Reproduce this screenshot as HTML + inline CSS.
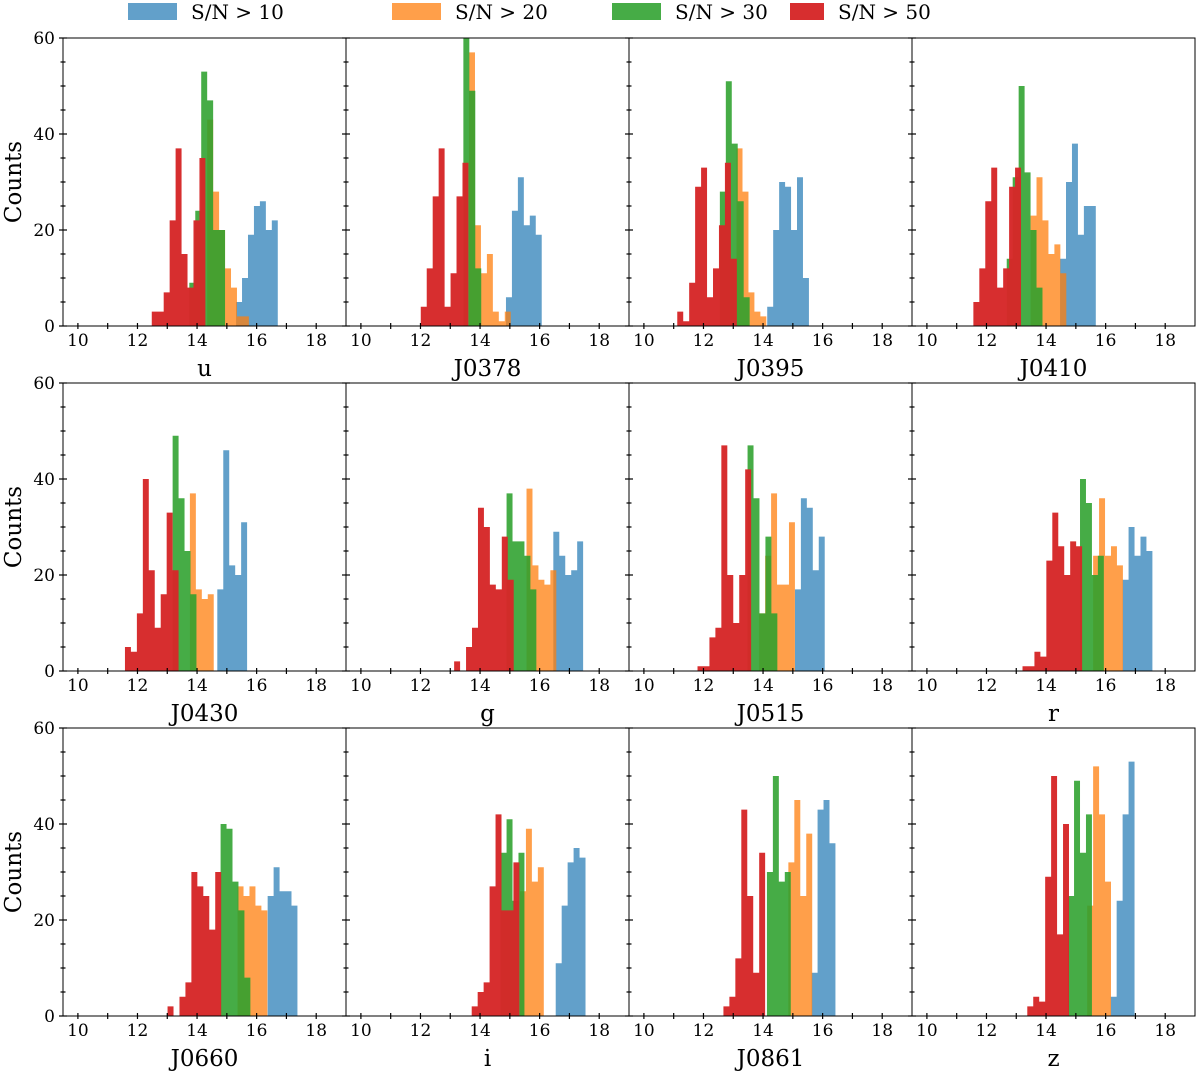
<!DOCTYPE html>
<html><head><meta charset="utf-8"><style>
body{margin:0;background:#fff;}
svg{display:block;font-family:"DejaVu Serif","Liberation Serif",serif;}
</style></head><body>
<svg id="chart" width="1200" height="1075" viewBox="0 0 1200 1075" xmlns="http://www.w3.org/2000/svg"></svg>
<script>
// Per-panel data: filter names, then for each series: bin start magnitude and counts (bin width 0.2 mag)
const filters = ["u","J0378","J0395","J0410","J0430","g","J0515","r","J0660","i","J0861","z"];
const seriesNames = ["S/N > 10","S/N > 20","S/N > 30","S/N > 50"];
const binWidth = 0.2;
const blueStart = [15.31,14.87,14.14,14.47,14.68,16.46,15.07,16.57,16.37,16.54,15.63,16.17];
const blueCounts = [[5,10,19,25,26,20,22],[6,24,31,21,23,19],[4,20,30,29,20,31,10],[14,30,38,19,25,25],[17,46,22,20,31],[29,24,20,21,27],[17,36,34,21,28],[19,30,24,28,25],[25,31,26,26,23],[11,23,32,35,33],[9,43,45,36],[4,24,42,53]];
const orangeStart = [14.34,13.63,13.11,13.48,13.76,15.56,13.87,15.58,15.36,15.34,14.85,15.38];
const orangeCounts = [[43,28,20,12,8,2,2],[57,21,11,15,3,1,3],[37,28,7,3,2],[23,31,22,15,17,11],[37,17,15,16],[38,22,19,18,21],[12,24,37,18,18,31],[24,36,24,26,22],[27,25,27,23,22],[26,39,28,31],[32,45,25,38],[23,52,42,28]];
const greenStart = [13.74,13.44,12.55,12.68,13.18,14.89,13.48,15.14,14.79,14.69,14.13,14.74];
const greenCounts = [[9,24,53,47,20,20],[60,49,12],[28,51,38,26,6],[14,31,50,32,20,8],[49,36,25,16],[37,27,27,24,17],[47,36,12,28,12],[40,35,20,24],[40,39,28,22,8],[34,41,24,34],[30,50,28,30],[25,49,34,42]];
const redStart = [12.48,12.01,11.12,11.56,11.58,13.13,11.8,13.21,13.01,13.72,12.67,13.37];
const redCounts = [[3,3,7,22,37,15,8,22,35],[4,12,27,37,4,11,27,34],[3,1,9,29,33,6,12,21,34,14],[5,12,26,33,8,12,29,33],[5,4,12,40,21,9,16,33,21],[2,0,5,9,34,30,18,17,28,19],[1,1,7,9,47,20,10,20,42],[1,1,4,3,23,33,26,20,27,26],[2,0,4,7,30,27,25,18,30],[2,5,7,27,42,22,22,32],[2,4,12,43,25,9,34],[2,4,3,29,50,17,40]];
const xTicks = [10,12,14,16,18];
const yTicks = [0,20,40,60];

const NS="http://www.w3.org/2000/svg";
const svg=document.getElementById('chart');
function mk(tag,attrs,parent){const e=document.createElementNS(NS,tag);for(const k in attrs)e.setAttribute(k,attrs[k]);(parent||svg).appendChild(e);return e;}
const colLeft=[63,346,629,912], pw=283, rowTop=[38,383,728], ph=288;
const xMin=9.5,xMax=19.0,yMax=60;
const colors=["#1f77b4","#ff7f0e","#2ca02c","#d62728"];
const opac=[0.7,0.75,0.88,0.97];
const starts=[blueStart,orangeStart,greenStart,redStart];
const counts=[blueCounts,orangeCounts,greenCounts,redCounts];

// legend
const legX=[128,392,612,790];
seriesNames.forEach((n,i)=>{
  const g=mk('g',{});
  
  
  const r=mk('rect',{x:legX[i],y:3,width:(i===3?34:49),height:17,fill:colors[i],'fill-opacity':opac[i]},g);
  
  
  const t=mk('text',{x:(i===3?838:legX[i]+63),y:19,'font-size':20,fill:'#000'},g);
  t.textContent=n;
  
  
});

filters.forEach((f,p)=>{
  const c=p%4, r=Math.floor(p/4);
  const L=colLeft[c], T=rowTop[r], B=T+ph;
  const sx=m=>L+(m-xMin)/(xMax-xMin)*pw;
  const sy=v=>B-v/yMax*ph;
  const g=mk('g',{});
  
  
  for(let s=0;s<4;s++){
    const arr=counts[s][p];
    const st=starts[s][p];
    let d='M'+sx(st).toFixed(2)+','+B;
    arr.forEach((v,k)=>{
      const x0=sx(st+k*binWidth), x1=sx(st+(k+1)*binWidth);
      d+=' L'+x0.toFixed(2)+','+sy(v).toFixed(2)+' L'+x1.toFixed(2)+','+sy(v).toFixed(2);
    });
    d+=' L'+sx(st+arr.length*binWidth).toFixed(2)+','+B+' Z';
    const h=mk('path',{d:d,fill:colors[s],'fill-opacity':opac[s]},g);
    
    
  }
  const fr=mk('rect',{x:L,y:T,width:pw,height:ph,fill:'none',stroke:'#000','stroke-width':1},g);
  
  
  for(let m=10;m<=18;m++){
    const x=sx(m);
    mk('line',{x1:x,x2:x,y1:B-3,y2:B+3,stroke:'#000','stroke-width':1.2},g);
  }
  xTicks.forEach(m=>{
    const t=mk('text',{x:sx(m),y:B+20,'font-size':17,'text-anchor':'middle'},g);
    t.textContent=m;
    
    
  });
  for(let v=0;v<=60;v+=5){
    const y=sy(v), len=(v%20===0)?4:2.5;
    mk('line',{x1:L-len,x2:L+len,y1:y,y2:y,stroke:'#000','stroke-width':1.2},g);
  }
  if(c===0){
    yTicks.forEach(v=>{
      const t=mk('text',{x:L-8,y:sy(v)+6,'font-size':17,'text-anchor':'end'},g);
      t.textContent=v;
      
      
    });
    const yl=mk('text',{x:0,y:0,'font-size':23,'text-anchor':'middle',transform:`translate(21,${T+ph/2}) rotate(-90)`},g);
    yl.textContent='Counts';
    
    
  }
  const xl=mk('text',{x:L+pw/2,y:B+50,'font-size':23,'text-anchor':'middle'},g);
  xl.textContent=f;
  
  
});
</script>
</body></html>
